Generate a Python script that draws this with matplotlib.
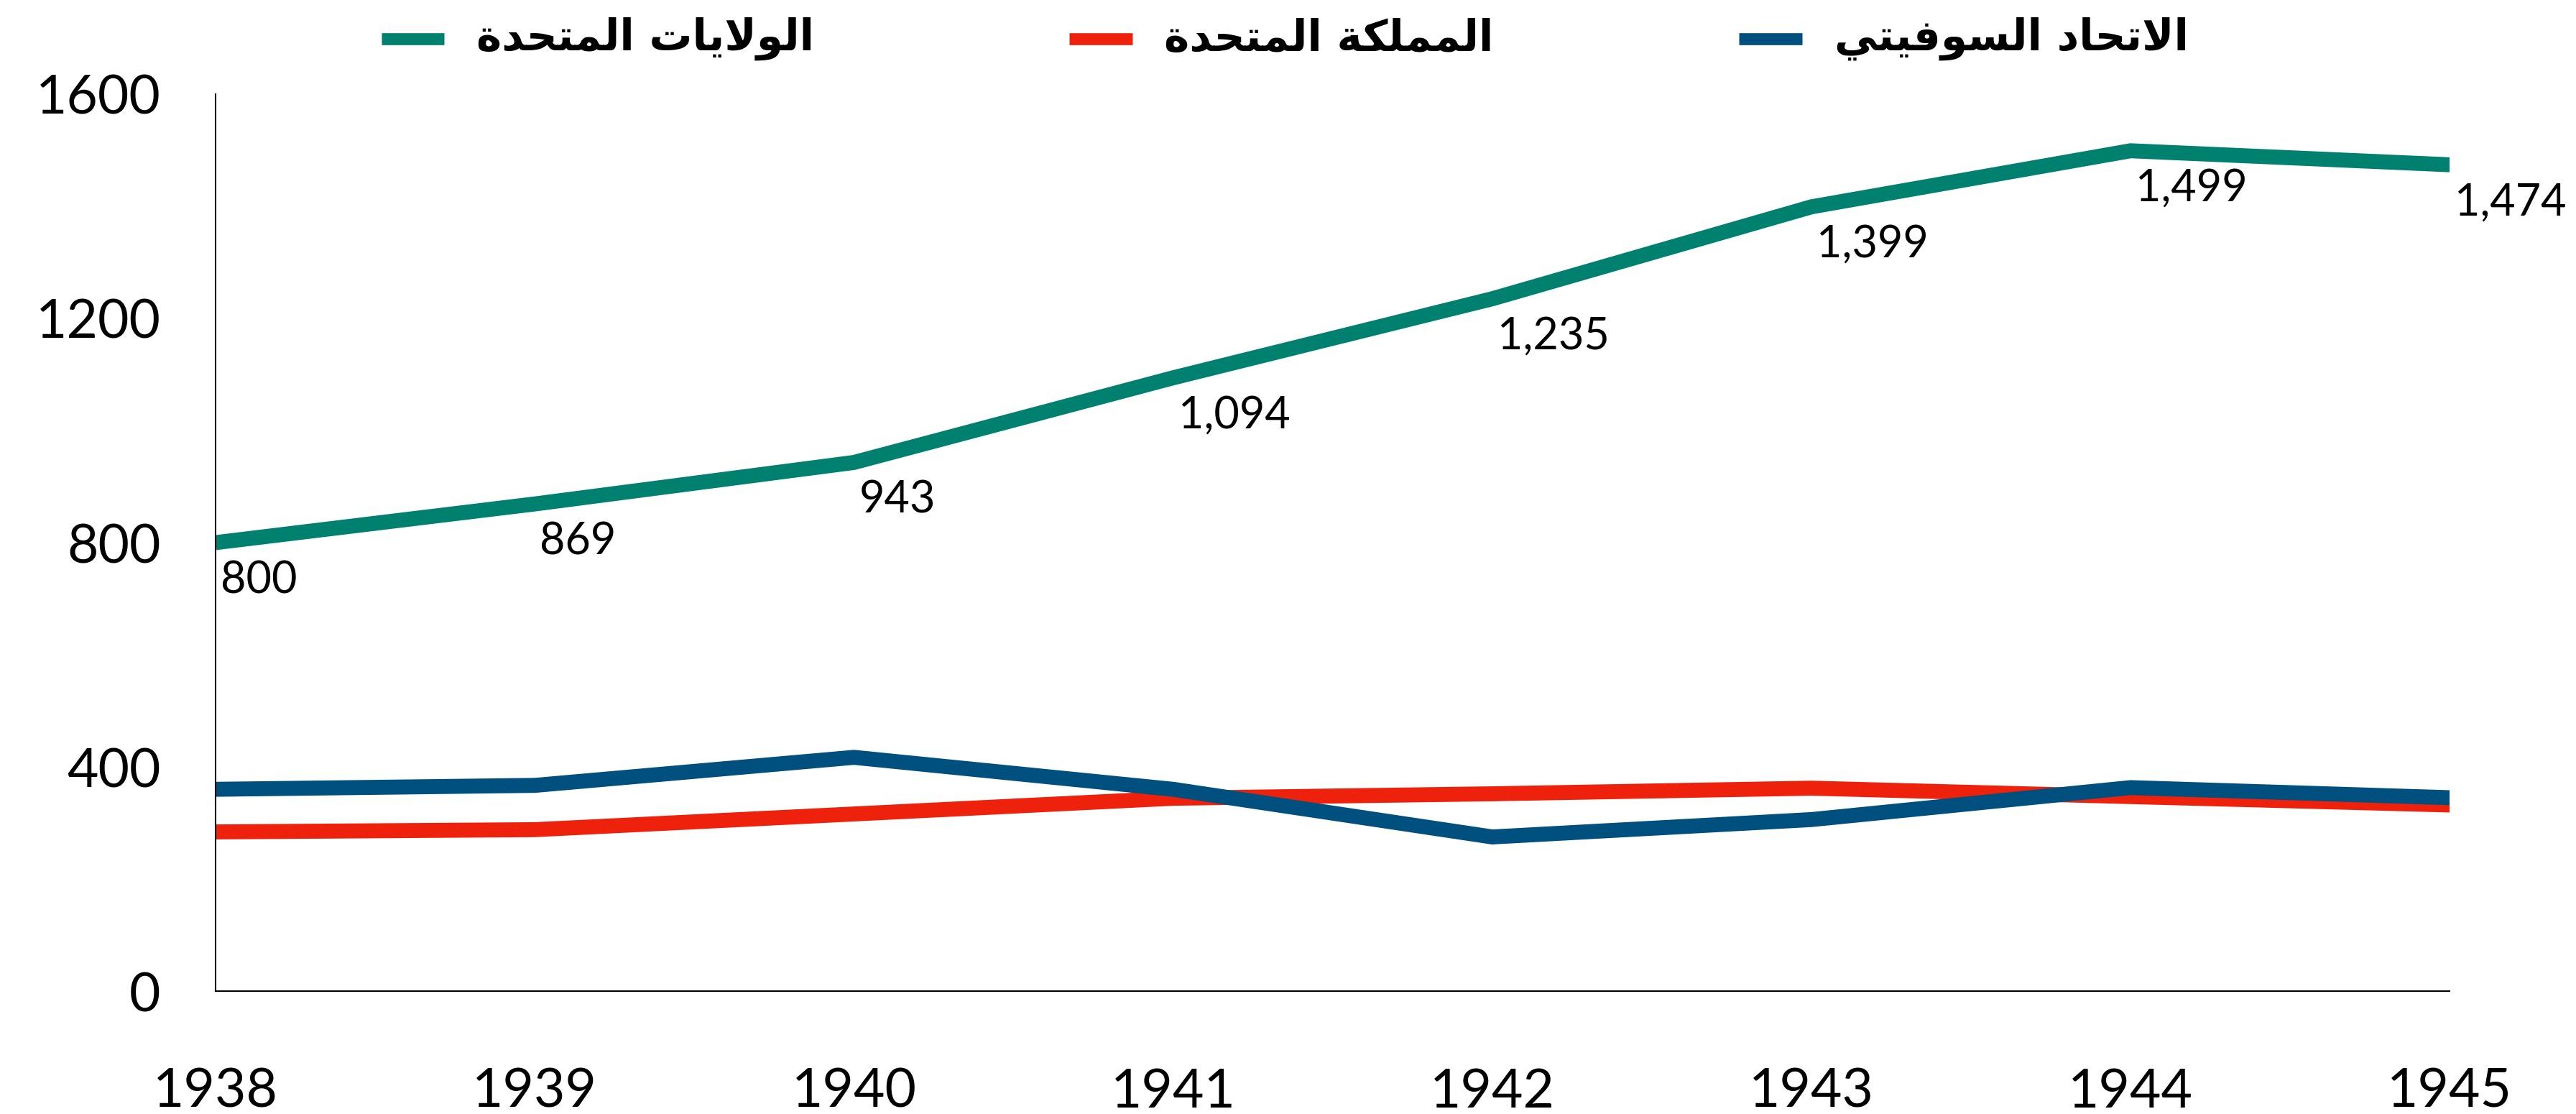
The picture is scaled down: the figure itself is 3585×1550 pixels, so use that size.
import matplotlib.pyplot as plt
from matplotlib.lines import Line2D

years = [1938, 1939, 1940, 1941, 1942, 1943, 1944, 1945]
usa = [800, 869, 943, 1094, 1235, 1399, 1499, 1474]
uk = [284, 288, 316, 344, 352, 362, 347, 332]
ussr = [360, 367, 417, 360, 275, 306, 363, 345]

names = ["الولايات المتحدة", "المملكة المتحدة", "الاتحاد السوفيتي"]
colors = ["#00806F", "#EE220C", "#00507F"]

# no bidi/reshaper available: turn Arabic into presentation forms by hand
FORMS = {
    'ا': ('\uFE8D', '\uFE8E', None, None),
    'ت': ('\uFE95', '\uFE96', '\uFE97', '\uFE98'),
    'ة': ('\uFE93', '\uFE94', None, None),
    'ح': ('\uFEA1', '\uFEA2', '\uFEA3', '\uFEA4'),
    'د': ('\uFEA9', '\uFEAA', None, None),
    'س': ('\uFEB1', '\uFEB2', '\uFEB3', '\uFEB4'),
    'ف': ('\uFED1', '\uFED2', '\uFED3', '\uFED4'),
    'ك': ('\uFED9', '\uFEDA', '\uFEDB', '\uFEDC'),
    'ل': ('\uFEDD', '\uFEDE', '\uFEDF', '\uFEE0'),
    'م': ('\uFEE1', '\uFEE2', '\uFEE3', '\uFEE4'),
    'و': ('\uFEED', '\uFEEE', None, None),
    'ي': ('\uFEF1', '\uFEF2', '\uFEF3', '\uFEF4'),
    'لا': ('\uFEFB', '\uFEFC', None, None),
}


def shape(text):
    out = []
    for word in text.split(' '):
        toks = []
        i = 0
        while i < len(word):
            if word[i] == 'ل' and i + 1 < len(word) and word[i + 1] == 'ا':
                toks.append('لا')
                i += 2
            else:
                toks.append(word[i])
                i += 1
        res = []
        for k, t in enumerate(toks):
            f = FORMS[t]
            prev = k > 0 and FORMS[toks[k - 1]][2] is not None
            nxt = k + 1 < len(toks) and f[2] is not None
            if prev and nxt:
                res.append(f[3])
            elif prev:
                res.append(f[1])
            elif nxt:
                res.append(f[2])
            else:
                res.append(f[0])
        out.append(''.join(res))
    return ' '.join(out)[::-1]


plt.rcParams['font.family'] = ['Lato', 'DejaVu Sans']

fig = plt.figure(figsize=(35.85, 15.5), dpi=100)
ax = fig.add_axes([0.0837, 0.1103, 0.8673, 0.8052])

for vals, c in zip([usa, uk, ussr], colors):
    ax.plot(years, vals, color=c, linewidth=15, solid_joinstyle='miter',
            solid_capstyle='butt')

for x, v in zip(years, usa):
    ax.annotate(f"{v:,}", (x, v), xytext=(5, -38), textcoords='offset points',
                ha='left', va='center', fontsize=44)

ax.set_xlim(1938, 1945)
ax.set_ylim(0, 1600)
ax.set_yticks([0, 400, 800, 1200, 1600])
ax.set_xticks(years)
ax.tick_params(length=0, labelsize=54)
ax.tick_params(axis='y', pad=55)
ax.tick_params(axis='x', pad=76)
for s in ['top', 'right']:
    ax.spines[s].set_visible(False)
for s in ['left', 'bottom']:
    ax.spines[s].set_linewidth(1.5)

leg_x = [0.148, 0.415, 0.675]
for x0, name, c in zip(leg_x, names, colors):
    fig.add_artist(Line2D([x0, x0 + 0.0245], [0.965, 0.965], color=c,
                          linewidth=12, transform=fig.transFigure,
                          solid_capstyle='butt'))
    fig.text(x0 + 0.037, 0.965, shape(name), ha='left', va='center',
             fontsize=43, fontweight='bold', family=['DejaVu Sans'])

fig.savefig('out.png', dpi=100)
